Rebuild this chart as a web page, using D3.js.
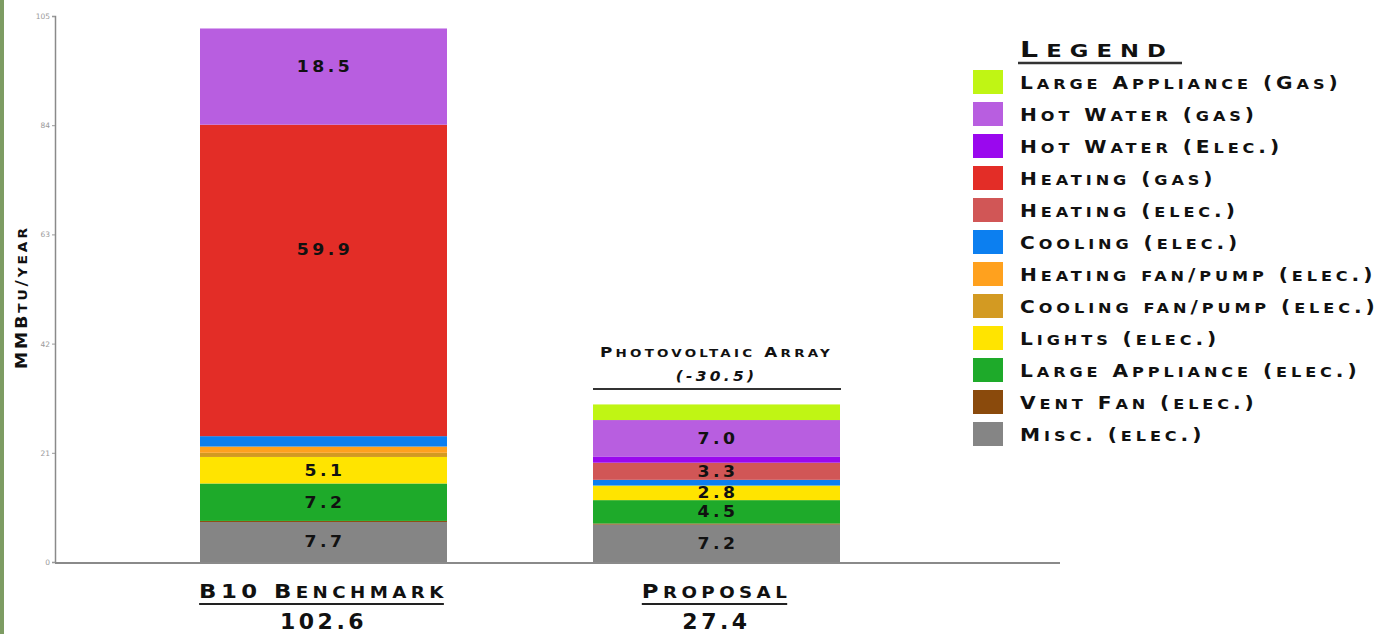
<!DOCTYPE html>
<html>
<head>
<meta charset="utf-8">
<script src="https://cdn.jsdelivr.net/npm/d3@7"></script>
<style>
  html, body { margin: 0; padding: 0; background: #ffffff; }
  svg { display: block; }
  .sc { font-family: "DejaVu Sans", sans-serif; font-weight: bold; fill: #111; }
</style>
</head>
<body>
<svg id="chart" width="1381" height="634"></svg>
<script>
// ---- data ----
const categories = ["B10 Benchmark", "Proposal"];
const totals = ["102.6", "27.4"];
// stack order bottom -> top
const seriesNames = [
  "Misc. (elec.)", "Vent Fan (elec.)", "Large Appliance (elec.)", "Lights (elec.)",
  "Cooling fan/pump (elec.)", "Heating fan/pump (elec.)", "Cooling (elec.)",
  "Heating (elec.)", "Heating (gas)", "Hot Water (Elec.)", "Hot Water (gas)",
  "Large Appliance (Gas)"
];
const benchmarkValues = [7.7, 0.2, 7.2, 5.1, 0.8, 1.2, 2.0, 0, 59.9, 0, 18.5, 0];
const proposalValues  = [7.2, 0.2, 4.5, 2.8, 0, 0, 1.1, 3.3, 0, 1.2, 7.0, 3.0];
const seriesColors = [
  "#858585", "#8a4a0c", "#1eaa2a", "#ffe400", "#d39a22", "#ffa11e", "#0c7ff0",
  "#d15656", "#e32d27", "#9a08ee", "#b85ee0", "#c0f514"
];
const labeledSeries = ["Misc. (elec.)", "Large Appliance (elec.)", "Lights (elec.)", "Heating (elec.)", "Heating (gas)", "Hot Water (gas)"];
const yTicks = [0, 21, 42, 63, 84, 105];
const pvLabel = "Photovoltaic Array";
const pvValue = "(-30.5)";
const yTitle = "MMBtu/year";
const legendTitle = "Legend";

// ---- helpers ----
// small-caps text built from tspans, with optional horizontal stretch
function scText(parent, str, o) {
  const size = o.size, ratio = o.ratio || 0.8, sx = o.sx || 1;
  const rot = o.rotate ? " rotate(" + o.rotate + ")" : "";
  const t = parent.append("text").attr("class", "sc")
    .attr("transform", "translate(" + o.x + "," + o.y + ")" + rot + " scale(" + sx + ",1)")
    .attr("text-anchor", o.anchor || "start")
    .attr("letter-spacing", o.spacing || 0)
    .attr("font-weight", o.weight || "bold")
    .attr("font-style", o.italic ? "italic" : "normal")
    .attr("fill", o.fill || "#111");
  const runs = [];
  for (const ch of str) {
    const low = ch !== ch.toUpperCase();
    if (runs.length && runs[runs.length - 1].low === low) runs[runs.length - 1].s += ch;
    else runs.push({ low: low, s: ch });
  }
  runs.forEach(r => t.append("tspan").attr("font-size", r.low ? size * ratio : size).text(r.s.toUpperCase()));
  return t;
}

// ---- build ----
const svg = d3.select("#chart");
const W = 1381, H = 634;

svg.append("rect").attr("x", 0).attr("y", 0).attr("width", 4).attr("height", H).attr("fill", "#7d9c63");

const rows = categories.map((c, i) => {
  const vals = i === 0 ? benchmarkValues : proposalValues;
  const o = { cat: c };
  seriesNames.forEach((s, j) => o[s] = vals[j]);
  return o;
});

const x = d3.scaleOrdinal().domain(categories).range([200, 593]);
const barW = 247;
const y = d3.scaleLinear().domain([0, 105]).range([562, 16]);

const stack = d3.stack().keys(seriesNames)(rows);

// y axis
const yAxis = svg.append("g").attr("transform", "translate(55,0)")
  .call(d3.axisLeft(y).tickValues(yTicks).tickSize(3).tickPadding(2));
yAxis.select(".domain").attr("stroke", "#8a8a8a").attr("stroke-width", 1.5);
yAxis.selectAll(".tick line").attr("stroke", "#999");
yAxis.selectAll(".tick text").attr("fill", "#9a9a9a").attr("font-size", 7.5).attr("font-family", "DejaVu Sans, sans-serif");

// y title
scText(svg, yTitle, { x: 27, y: 297, rotate: -90, anchor: "middle", size: 15, spacing: 2.5, sx: 1.15 });

// bars
const layers = svg.append("g").selectAll("g").data(stack).join("g")
  .attr("fill", (d, i) => seriesColors[i]);
layers.selectAll("rect").data(d => d.filter(p => p[1] - p[0] > 0)).join("rect")
  .attr("x", d => x(d.data.cat))
  .attr("width", barW)
  .attr("y", d => y(d[1]))
  .attr("height", d => y(d[0]) - y(d[1]));

// bar value labels
stack.forEach(layer => {
  if (!labeledSeries.includes(layer.key)) return;
  layer.forEach(p => {
    const v = p[1] - p[0];
    if (v <= 0) return;
    const frac = v > 15 ? 0.6 : 0.5;
    scText(svg, v.toFixed(1), {
      x: x(p.data.cat) + barW / 2 + 1.5, y: y(p[0] + frac * v) + 5.5,
      anchor: "middle", size: 15, spacing: 3, sx: 1.15, fill: "#1a1420"
    });
  });
});

// x axis baseline
svg.append("line").attr("x1", 55).attr("x2", 1060).attr("y1", 563).attr("y2", 563)
  .attr("stroke", "#8a8a8a").attr("stroke-width", 2);

// category labels
const svgRect = svg.node().getBoundingClientRect();
categories.forEach((c, i) => {
  const cx = x(c) + barW / 2;
  const t = scText(svg, c, { x: cx, y: 598, anchor: "middle", size: 19, spacing: 3.7, sx: 1.2 });
  const bb = t.node().getBoundingClientRect();
  svg.append("line").attr("x1", bb.left - svgRect.left).attr("x2", bb.right - svgRect.left - 4)
    .attr("y1", 604).attr("y2", 604).attr("stroke", "#222").attr("stroke-width", 2);
  scText(svg, totals[i], { x: cx, y: 629, anchor: "middle", size: 22, spacing: 3.5 });
});

// PV annotation
const pcx = x(categories[1]) + barW / 2;
scText(svg, pvLabel, { x: pcx, y: 357, anchor: "middle", size: 14, spacing: 2.7, sx: 1.2 });
scText(svg, pvValue, { x: pcx, y: 381, anchor: "middle", size: 14, spacing: 3, sx: 1.1, italic: true });
svg.append("line").attr("x1", 593).attr("x2", 841).attr("y1", 389).attr("y2", 389)
  .attr("stroke", "#333").attr("stroke-width", 2);

// legend
const lg = svg.append("g");
scText(lg, legendTitle, { x: 1020, y: 57, size: 21, spacing: 6, sx: 1.35, weight: "normal" });
lg.append("line").attr("x1", 1018).attr("x2", 1182).attr("y1", 63).attr("y2", 63)
  .attr("stroke", "#333").attr("stroke-width", 2.5);

const legendOrder = seriesNames.map((s, i) => ({ name: s, color: seriesColors[i] })).reverse();
const ly = d3.scalePoint().domain(legendOrder.map(d => d.name)).range([82, 434]);
legendOrder.forEach(d => {
  lg.append("rect").attr("x", 973).attr("y", ly(d.name) - 12).attr("width", 30).attr("height", 24)
    .attr("fill", d.color);
  scText(lg, d.name, { x: 1020, y: ly(d.name) + 7, size: 18, spacing: 3.5, sx: 1.12 });
});
</script>
</body>
</html>
